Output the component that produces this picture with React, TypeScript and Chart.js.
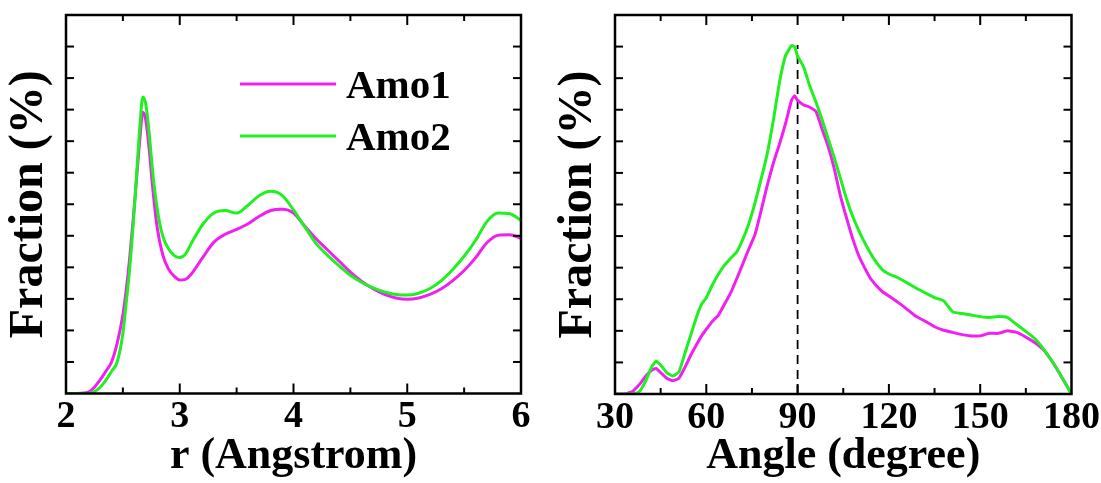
import React, { useEffect, useRef } from 'react';
import { Chart, registerables } from 'chart.js';

Chart.register(...registerables);

// ---------- data ----------
const seriesNames = ['Amo1', 'Amo2'];

const rValues = [2.0, 2.1, 2.2, 2.25, 2.3, 2.35, 2.4, 2.45, 2.5, 2.53, 2.56, 2.59, 2.62, 2.65, 2.675, 2.7, 2.73, 2.76, 2.8, 2.85, 2.9, 2.95, 3.0, 3.05, 3.1, 3.2, 3.3, 3.4, 3.5, 3.6, 3.7, 3.8, 3.9, 4.0, 4.1, 4.2, 4.3, 4.4, 4.5, 4.6, 4.7, 4.8, 4.9, 5.0, 5.1, 5.2, 5.3, 5.4, 5.5, 5.6, 5.7, 5.8, 5.9, 6.0];
const rdfAmo1 = [0, 0, 0.05, 0.2, 0.43, 0.7, 1.0, 1.6, 2.5, 3.3, 4.3, 5.5, 6.8, 8.1, 8.92, 8.7, 7.8, 6.6, 5.3, 4.4, 3.95, 3.72, 3.6, 3.62, 3.78, 4.3, 4.8, 5.05, 5.2, 5.38, 5.62, 5.8, 5.84, 5.72, 5.3, 4.9, 4.55, 4.2, 3.85, 3.55, 3.32, 3.14, 3.03, 2.99, 3.03, 3.14, 3.32, 3.58, 3.9, 4.3, 4.78, 5.02, 5.03, 4.92];
const rdfAmo2 = [0, 0, 0, 0.06, 0.2, 0.42, 0.7, 1.0, 1.9, 2.9, 3.95, 5.3, 6.9, 8.5, 9.4, 9.2, 8.3, 7.1, 5.9, 5.0, 4.6, 4.38, 4.31, 4.42, 4.75, 5.35, 5.72, 5.8, 5.72, 5.97, 6.28, 6.41, 6.28, 5.82, 5.28, 4.75, 4.38, 4.05, 3.75, 3.52, 3.35, 3.22, 3.14, 3.12, 3.18, 3.33, 3.58, 3.93, 4.35, 4.85, 5.45, 5.72, 5.7, 5.49];

const angleValues = [30, 33, 35, 36, 38, 40, 42, 43.5, 45, 47, 49, 51, 53, 55, 57, 58.5, 60, 62, 64, 66, 68, 70, 72, 74, 76, 78, 80, 82, 84, 86, 88, 89, 90, 92, 94, 96, 98, 100, 102, 104, 106, 108, 110, 112, 114, 116, 118, 120, 123, 126, 129, 132, 135, 138, 141, 144, 147, 150, 153, 156, 159, 162, 165, 168, 171, 174, 177, 180];
const adfAmo1 = [0, 0, 0.05, 0.1, 0.3, 0.55, 0.75, 0.81, 0.68, 0.5, 0.42, 0.5, 0.85, 1.25, 1.6, 1.85, 2.05, 2.3, 2.5, 2.85, 3.2, 3.65, 4.12, 4.6, 5.05, 5.8, 6.6, 7.3, 7.9, 8.55, 9.3, 9.44, 9.3, 9.15, 9.08, 8.95, 8.4, 7.85, 7.15, 6.3, 5.6, 4.95, 4.4, 4.0, 3.65, 3.42, 3.23, 3.1, 2.9, 2.68, 2.45, 2.3, 2.13, 2.02, 1.95, 1.88, 1.84, 1.84, 1.92, 1.92, 2.0, 1.95, 1.8, 1.62, 1.38, 0.98, 0.5, 0];
const adfAmo2 = [0, 0, 0, 0, 0.08, 0.4, 0.85, 1.04, 0.92, 0.68, 0.57, 0.7, 1.3, 1.9, 2.5, 2.85, 3.05, 3.45, 3.8, 4.08, 4.3, 4.5, 4.9, 5.4, 6.05, 6.8, 7.6, 8.65, 9.85, 10.7, 11.03, 11.0, 10.7, 10.35, 9.75, 9.25, 8.7, 8.1, 7.5, 6.85, 6.2, 5.65, 5.2, 4.8, 4.45, 4.15, 3.92, 3.8, 3.68, 3.52, 3.35, 3.2, 3.05, 2.95, 2.6, 2.55, 2.5, 2.45, 2.42, 2.45, 2.42, 2.2, 1.98, 1.75, 1.4, 0.98, 0.5, 0];

const rTickLabels = [2, 3, 4, 5, 6];
const rMinorTicks = [2.5, 3.5, 4.5, 5.5];
const angleTickLabels = [30, 60, 90, 120, 150, 180];
const angleMinorTicks = [45, 75, 105, 135, 165];
const yTickValues = [1, 2, 3, 4, 5, 6, 7, 8, 9, 10, 11];
const refAngle = 90;
const refLineTop = 11.05;

// ---------- styles ----------
const FONT = "'Liberation Serif', 'Times New Roman', serif";
const MAGENTA = '#f020f0';
const GREEN = '#20f020';

const framePlugin = {
  id: 'frame',
  afterDatasetsDraw(chart: any, _args: any, opts: any) {
    const { ctx, chartArea } = chart;
    const { left, right, top, bottom } = chartArea;
    const xs = chart.scales.x;
    const ys = chart.scales.y;
    ctx.save();
    ctx.strokeStyle = '#000';
    ctx.lineWidth = 2;
    const seg = (x1: number, y1: number, x2: number, y2: number) => {
      ctx.beginPath();
      ctx.moveTo(x1, y1);
      ctx.lineTo(x2, y2);
      ctx.stroke();
    };
    (opts.xMajor || []).forEach((v: number) => {
      const p = xs.getPixelForValue(v);
      seg(p, bottom, p, bottom - 10);
      seg(p, top, p, top + 10);
    });
    (opts.xMinor || []).forEach((v: number) => {
      const p = xs.getPixelForValue(v);
      seg(p, bottom, p, bottom - 6);
      seg(p, top, p, top + 6);
    });
    (opts.yTicks || []).forEach((v: number) => {
      const p = ys.getPixelForValue(v);
      seg(left, p, left + 8, p);
      seg(right, p, right - 8, p);
    });
    ctx.lineWidth = 2.5;
    ctx.strokeRect(left, top, right - left, bottom - top);
    ctx.restore();
  },
};

const inlineLegendPlugin = {
  id: 'inlineLegend',
  afterDraw(chart: any, _args: any, opts: any) {
    if (!opts || !opts.items) return;
    const { ctx } = chart;
    ctx.save();
    opts.items.forEach((it: any) => {
      const ds = chart.data.datasets.find((d: any) => d.label === it.label);
      if (!ds) return;
      ctx.strokeStyle = ds.borderColor;
      ctx.lineWidth = 3;
      ctx.beginPath();
      ctx.moveTo(it.x1, it.y);
      ctx.lineTo(it.x2, it.y);
      ctx.stroke();
      ctx.fillStyle = '#000';
      ctx.font = `bold 41px ${FONT}`;
      ctx.textBaseline = 'middle';
      ctx.textAlign = 'left';
      ctx.fillText(it.label, it.tx, it.y + 3);
    });
    ctx.restore();
  },
};

function makeChart(
  canvas: HTMLCanvasElement,
  xs: number[],
  a1: number[],
  a2: number[],
  cfg: any
) {
  const datasets: any[] = [
    {
      label: seriesNames[1],
      data: xs.map((x, i) => ({ x, y: a2[i] })),
      borderColor: GREEN,
      borderWidth: 3,
      pointRadius: 0,
      cubicInterpolationMode: cfg.smooth ? 'monotone' : 'default',
      tension: cfg.smooth ? 0.4 : 0.15,
      order: 0,
    },
    {
      label: seriesNames[0],
      data: xs.map((x, i) => ({ x, y: a1[i] })),
      borderColor: MAGENTA,
      borderWidth: 3,
      pointRadius: 0,
      cubicInterpolationMode: cfg.smooth ? 'monotone' : 'default',
      tension: cfg.smooth ? 0.4 : 0.15,
      order: 1,
    },
  ];
  if (cfg.refLine) {
    datasets.push({
      label: 'ref',
      data: [
        { x: refAngle, y: 0 },
        { x: refAngle, y: refLineTop },
      ],
      borderColor: '#000',
      borderWidth: 1.8,
      borderDash: [9, 6],
      pointRadius: 0,
      order: 2,
    });
  }
  return new Chart(canvas, {
    type: 'line',
    data: { datasets },
    options: {
      animation: false,
      responsive: false,
      maintainAspectRatio: false,
      layout: { padding: { top: 15, right: cfg.padRight, left: 0, bottom: 0 } },
      plugins: {
        legend: { display: false },
        tooltip: { enabled: false },
        frame: { xMajor: cfg.xMajor, xMinor: cfg.xMinor, yTicks: yTickValues },
        inlineLegend: cfg.legend || {},
      } as any,
      scales: {
        x: {
          type: 'linear',
          min: cfg.xMin,
          max: cfg.xMax,
          afterFit: (s: any) => {
            s.height = cfg.xAxisHeight;
          },
          afterBuildTicks: (s: any) => {
            s.ticks = cfg.xLabels.map((v: number) => ({ value: v }));
          },
          grid: { display: false, drawTicks: false },
          border: { display: false },
          ticks: {
            color: '#000',
            padding: 1,
            maxRotation: 0,
            autoSkip: false,
            font: { family: FONT, size: 38, weight: 'bold' },
          },
          title: {
            display: true,
            text: cfg.xTitle,
            color: '#000',
            padding: { top: 0, bottom: 0 },
            font: { family: FONT, size: 44, weight: 'bold' },
          },
        },
        y: {
          type: 'linear',
          min: 0,
          max: 12,
          afterFit: (s: any) => {
            s.width = cfg.yAxisWidth;
          },
          grid: { display: false, drawTicks: false },
          border: { display: false },
          ticks: { display: false, stepSize: 1 },
          title: {
            display: true,
            text: 'Fraction (%)',
            color: '#000',
            padding: { top: cfg.yTitlePad, bottom: 0 },
            font: { family: FONT, size: 48, weight: 'bold' },
          },
        },
      },
    } as any,
    plugins: [framePlugin, inlineLegendPlugin],
  });
}

export default function App() {
  const leftRef = useRef<HTMLCanvasElement>(null);
  const rightRef = useRef<HTMLCanvasElement>(null);

  useEffect(() => {
    const c1 = makeChart(leftRef.current!, rValues, rdfAmo1, rdfAmo2, {
      smooth: true,
      xMin: 2,
      xMax: 6,
      xLabels: rTickLabels,
      xMajor: rTickLabels.slice(1, -1),
      xMinor: rMinorTicks,
      xTitle: 'r (Angstrom)',
      padRight: 29,
      xAxisHeight: 89.5,
      yAxisWidth: 66,
      yTitlePad: 1,
      legend: {
        items: [
          { label: 'Amo1', x1: 240, x2: 336, y: 84, tx: 346 },
          { label: 'Amo2', x1: 240, x2: 336, y: 136, tx: 346 },
        ],
      },
    });
    const c2 = makeChart(rightRef.current!, angleValues, adfAmo1, adfAmo2, {
      smooth: false,
      refLine: true,
      xMin: 30,
      xMax: 180,
      xLabels: angleTickLabels,
      xMajor: angleTickLabels.slice(1, -1),
      xMinor: angleMinorTicks,
      xTitle: 'Angle (degree)',
      padRight: 29,
      xAxisHeight: 89,
      yAxisWidth: 65,
      yTitlePad: 0,
    });
    return () => {
      c1.destroy();
      c2.destroy();
    };
  }, []);

  return (
    <div style={{ position: 'absolute', left: 0, top: 0, width: 1101, height: 483, background: '#fff' }}>
      <canvas ref={leftRef} width={550} height={483} style={{ position: 'absolute', left: 0, top: 0, width: 550, height: 483 }} />
      <canvas ref={rightRef} width={551} height={483} style={{ position: 'absolute', left: 550, top: 0, width: 551, height: 483 }} />
    </div>
  );
}
